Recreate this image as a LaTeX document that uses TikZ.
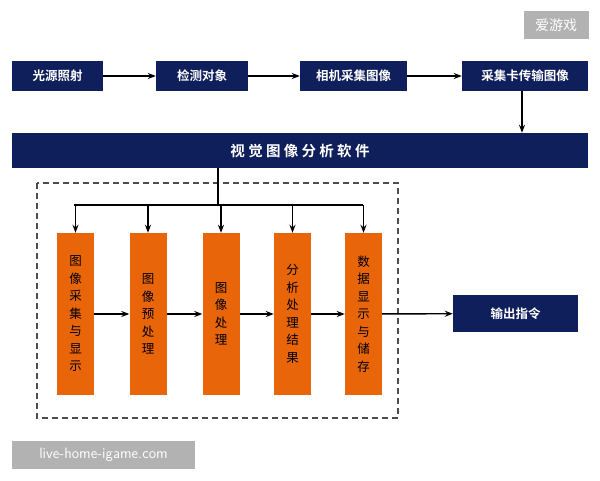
\documentclass[tikz,border=0pt]{standalone}
\usepackage{fontspec}
\setmainfont{Noto Sans CJK SC}[BoldFont={Noto Sans CJK SC Bold}]
\usetikzlibrary{arrows.meta,positioning}
\definecolor{navy}{HTML}{0F1F5C}
\definecolor{orng}{HTML}{E8650A}
\tikzset{
  stepbox/.style={rectangle,fill=navy,text=white,minimum height=30pt,inner sep=2pt,font=\fontsize{12.5}{14}\selectfont\bfseries},
  stage/.style={rectangle,fill=orng,text=black,minimum width=37pt,minimum height=162pt,align=center,font=\fontsize{12.5}{17.5}\selectfont},
  arrow/.style={-{Stealth[length=8pt,width=6pt]},line width=1.4pt},
  stamp/.style={rectangle,fill=black!30,text=white,inner sep=3pt,font=\fontsize{14}{16}\selectfont}
}
\begin{document}
\begin{tikzpicture}[x=1pt,y=-1pt]
\useasboundingbox (0,0) rectangle (600,480);
% top row
\node(light)[stepbox,minimum width=91pt] at (57.5,76) {光源照射};
\node(object)[stepbox,minimum width=92pt] at (202,76) {检测对象};
\node(camera)[stepbox,minimum width=107pt] at (353.5,76) {相机采集图像};
\node(card)[stepbox,minimum width=126pt] at (525,76) {采集卡传输图像};
\node(soft)[stepbox,minimum width=576pt,minimum height=35pt,font=\fontsize{14.5}{16}\selectfont\bfseries] at (300,150.5) {视 觉 图 像 分 析 软 件};
\draw[arrow] (light) -- (object);
\draw[arrow] (object) -- (camera);
\draw[arrow] (camera) -- (card);
\draw[arrow] (card.south -| 522,0) -- (soft.north -| 522,0);
% software stages
\draw[dash pattern=on 6pt off 4pt,line width=1.4pt,black!70] (37,183) rectangle (398,418);
\node(acq)[stage] at (75.5,314) {图\\像\\采\\集\\与\\显\\示};
\node(pre)[stage] at (148,314) {图\\像\\预\\处\\理};
\node(proc)[stage] at (221,314) {图\\像\\处\\理};
\node(res)[stage] at (292.5,314) {分\\析\\处\\理\\结\\果};
\node(store)[stage] at (363.5,314) {数\\据\\显\\示\\与\\储\\存};
\node(out)[stepbox,minimum width=125pt,minimum height=37pt] at (515.5,313.5) {输出指令};
\coordinate(split) at (218,205);
\draw[line width=1.4pt] (soft.south -| split) -- (split);
\draw[line width=1.4pt] (74,205) -- (363,205);
\foreach \n in {acq,pre,proc,res,store}
  \draw[arrow] (\n.north |- split) -- (\n.north);
\draw[arrow] (acq) -- (pre);
\draw[arrow] (pre) -- (proc);
\draw[arrow] (proc) -- (res);
\draw[arrow] (res) -- (store);
\draw[arrow] (store) -- (out);
% watermarks
\node(tag)[stamp,minimum width=65pt,minimum height=28pt] at (556,25) {爱游戏};
\node(site)[stamp,font=\fontsize{15}{17}\selectfont\sffamily,minimum width=183pt,minimum height=28pt] at (103.5,455) {live-home-igame.com};
\end{tikzpicture}
\end{document}
